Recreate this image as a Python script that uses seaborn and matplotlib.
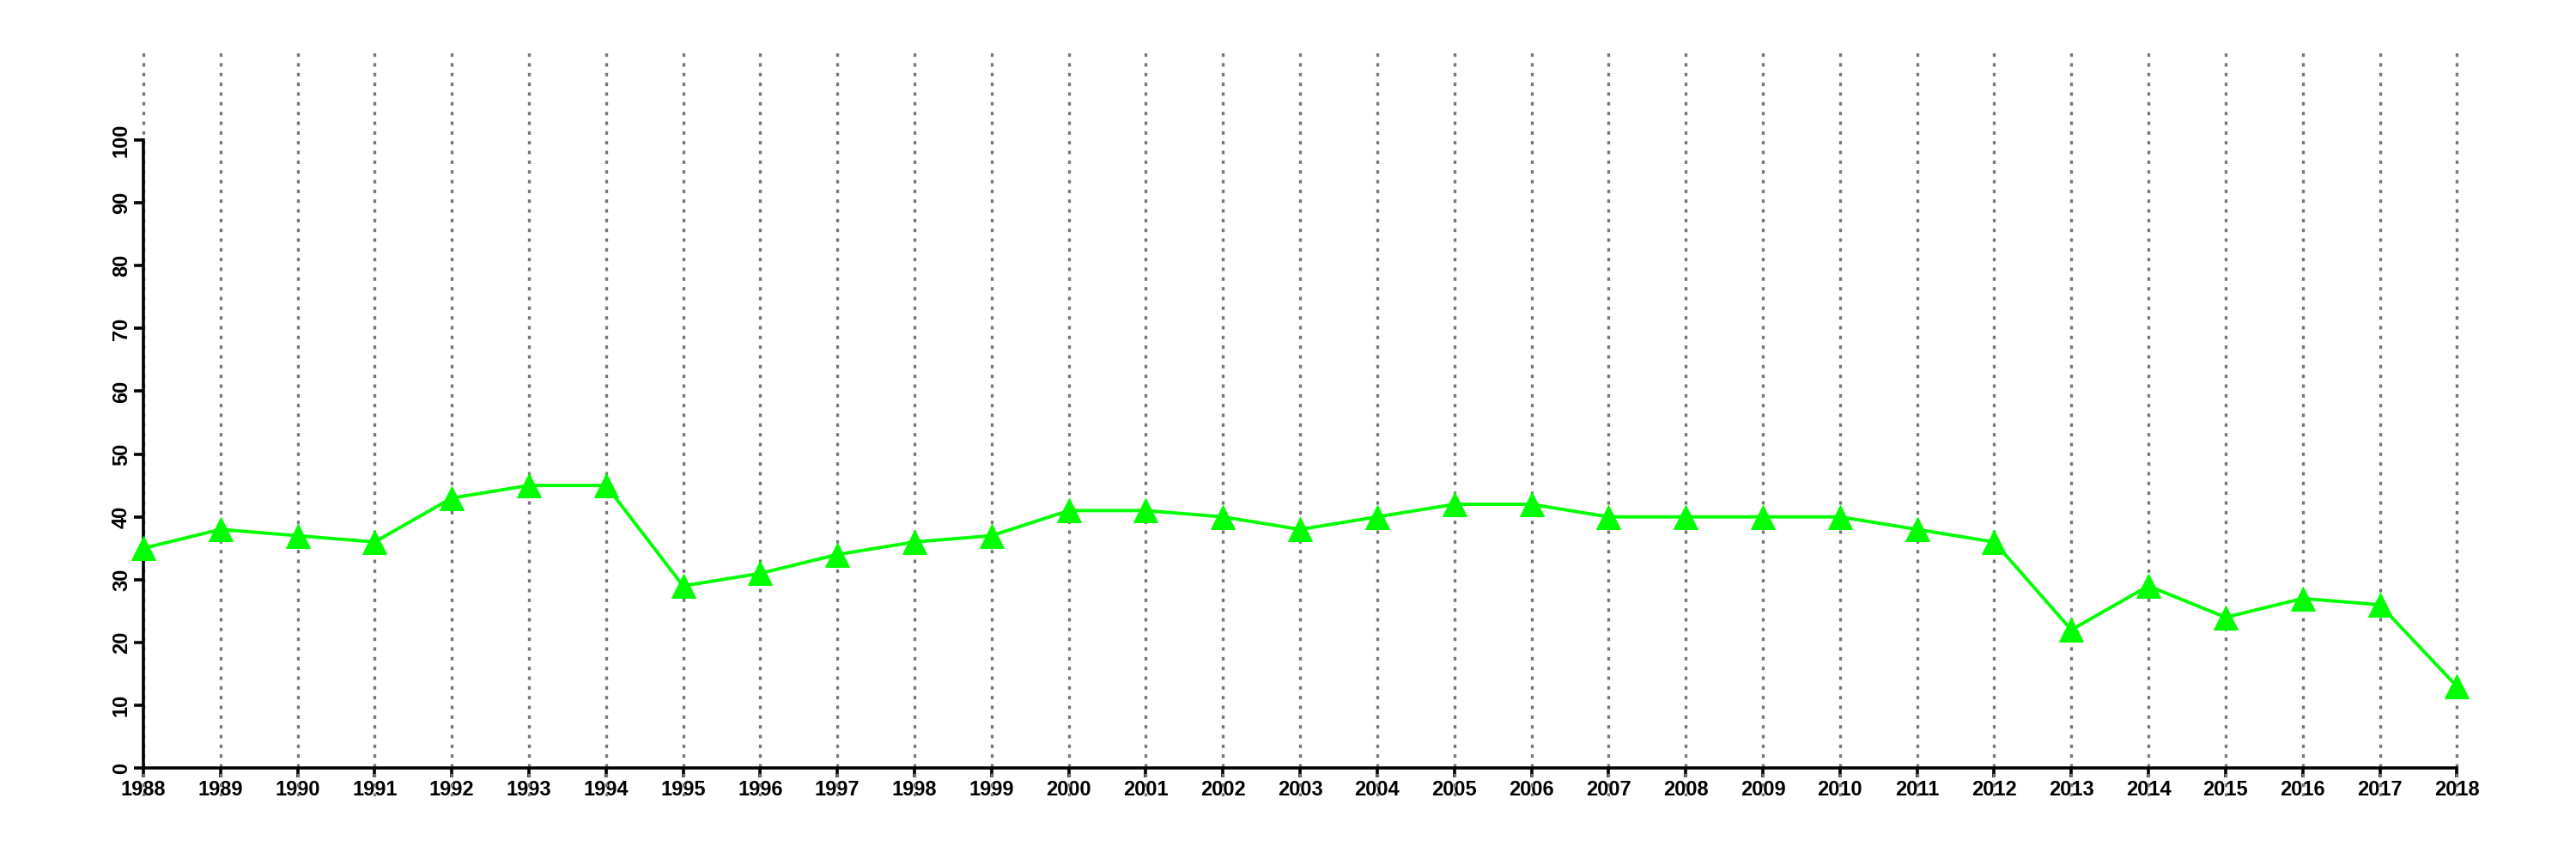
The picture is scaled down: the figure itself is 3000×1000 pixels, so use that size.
import numpy as np
import pandas as pd
import matplotlib
matplotlib.use("Agg")
import matplotlib.pyplot as plt
import seaborn as sns

# values
years = list(range(1988, 2019))
values = [35, 38, 37, 36, 43, 45, 45, 29, 31, 34, 36, 37, 41, 41, 40, 38,
          40, 42, 42, 40, 40, 40, 40, 38, 36, 22, 29, 24, 27, 26, 13]
y_ticks = list(range(0, 101, 10))

df = pd.DataFrame({"year": years, "value": values})

sns.set_style("white")
plt.rcParams["font.family"] = ["Liberation Sans", "DejaVu Sans"]

fig = plt.figure(figsize=(30, 10), dpi=100)
# axes spans the dotted grid area; spines drawn only over the data range
ax = fig.add_axes([0.0197, 0.073, 0.97, 0.867])

# dotted vertical grid at every year
for yr in years:
    ax.axvline(yr, color="#777777", linestyle=(0, (1.2, 2.2)), linewidth=2.4, zorder=1)

sns.lineplot(data=df, x="year", y="value", ax=ax, color="#00ff00", linewidth=2.8,
             marker="^", markersize=20, markeredgecolor="#00ff00", zorder=3)

ax.set_xlim(1986.8, 2019.2)
ax.set_ylim(-4.5, 114.1)

for side in ["top", "right"]:
    ax.spines[side].set_visible(False)
ax.spines["bottom"].set_position(("data", 0))
ax.spines["left"].set_position(("data", 1988))
ax.spines["bottom"].set_bounds(1988, 2018)
ax.spines["left"].set_bounds(0, 100)
for side in ["bottom", "left"]:
    ax.spines[side].set_linewidth(2.6)
    ax.spines[side].set_color("black")

ax.set_xticks(years)
ax.set_xticklabels([str(y) for y in years])
ax.set_yticks(y_ticks)
ax.set_yticklabels([str(v) for v in y_ticks], rotation=90, va="center")
ax.tick_params(axis="both", direction="out", length=8, width=2.6, labelsize=17,
               colors="black", pad=2, bottom=True, left=True)
for lbl in ax.get_xticklabels() + ax.get_yticklabels():
    lbl.set_fontweight("bold")

ax.set_xlabel("")
ax.set_ylabel("")
ax.patch.set_alpha(0)

fig.savefig("out.png", dpi=100, facecolor="white")
